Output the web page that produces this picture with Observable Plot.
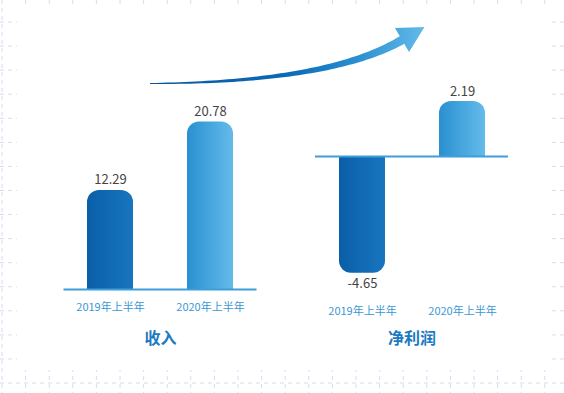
<!DOCTYPE html>
<html><head><meta charset="utf-8">
<script src="https://cdn.jsdelivr.net/npm/d3@7"></script>
<script src="https://cdn.jsdelivr.net/npm/@observablehq/plot@0.6"></script>
<style>
body{margin:0;background:#fff;}
#wrap{position:relative;width:564px;height:393px;overflow:hidden;font-family:"Noto Sans CJK SC","Noto Sans",sans-serif;}
#wrap > svg{position:absolute;top:0;}
</style></head><body>
<div id="wrap"></div>
<script>
// ---- data ----
const periods = ["2019年上半年", "2020年上半年"];
const revenue = [12.29, 20.78];
const netProfit = [-4.65, 2.19];
const titles = ["收入", "净利润"];

const wrap = document.getElementById("wrap");

// ---- background: faint dashed grid visible only along the edges ----
const bg = d3.select(wrap).append("svg").attr("width", 564).attr("height", 393).style("left", "0px");
const defs = bg.append("defs");
function grad(id, stops, attrs) {
  const g = defs.append("linearGradient").attr("id", id);
  Object.entries(attrs).forEach(([k, v]) => g.attr(k, v));
  stops.forEach(([o, c]) => g.append("stop").attr("offset", o).attr("stop-color", c));
}
grad("g2019", [[0, "#0a5ea8"], [1, "#1876be"]], {x1: 0, x2: 1, y1: 0, y2: 0});
grad("g2020", [[0, "#2990d1"], [1, "#64bbea"]], {x1: 0, x2: 1, y1: 0, y2: 0});
grad("gArrow", [[0, "#0b55a0"], [0.5, "#0a6ab6"], [0.75, "#2a8ecf"], [1, "#63bbea"]],
     {gradientUnits: "userSpaceOnUse", x1: 150, x2: 425, y1: 0, y2: 0});
const gridG = bg.append("g").attr("stroke", "#dadaee").attr("stroke-width", 1).attr("stroke-dasharray", "4,4");
for (let x = 2; x < 564; x += 23.6) gridG.append("line").attr("x1", x).attr("x2", x).attr("y1", 0).attr("y2", 393);
for (let y = 22; y < 393; y += 24.07) gridG.append("line").attr("x1", 0).attr("x2", 564).attr("y1", y).attr("y2", y);
bg.append("rect").attr("x", 17).attr("y", 4).attr("width", 531).attr("height", 366).attr("fill", "#fff");

// ---- panels ----
function panel({values, title, left, marginLeft, marginRight, marginTop, marginBottom, yDomain, titleDy}) {
  const data = periods.map((p, i) => ({period: p, value: values[i]}));
  const fills = ["url(#g2019)", "url(#g2020)"];
  const marks = [];
  periods.forEach((p, i) => {
    const filter = d => d.period === p;
    marks.push(Plot.barY(data, {filter, x: "period", y: "value", fill: fills[i], rx: 12}));
    marks.push(Plot.barY(data, {filter, x: "period", y1: 0, y2: d => d.value / 2, fill: fills[i]}));
  });
  marks.push(Plot.ruleY([0], {stroke: "#3d9ed9", strokeWidth: 2}));
  marks.push(Plot.text(data, {filter: d => d.value >= 0, x: "period", y: "value", text: d => d.value.toFixed(2),
    lineAnchor: "bottom", dy: -6, fill: "#444", fontSize: 13}));
  marks.push(Plot.text(data, {filter: d => d.value < 0, x: "period", y: "value", text: d => d.value.toFixed(2),
    lineAnchor: "top", dy: 6, fill: "#444", fontSize: 13}));
  marks.push(Plot.axisX({tickSize: 0, tickPadding: 14, fontSize: 11, fill: "#3a98d4", color: "#3a98d4", label: null}));
  marks.push(Plot.text([title], {frameAnchor: "bottom", text: d => d, dy: titleDy, fontSize: 16,
    fontWeight: "bold", fill: "#1b7ac0"}));
  const svg = Plot.plot({
    width: 282, height: 393,
    marginLeft, marginRight, marginTop, marginBottom,
    x: {domain: periods, paddingInner: 0.54, paddingOuter: 0.235},
    y: {domain: yDomain, axis: null},
    style: {background: "transparent", fontFamily: '"Noto Sans CJK SC","Noto Sans",sans-serif'},
    marks
  });
  svg.style.position = "absolute";
  svg.style.left = left + "px";
  svg.style.top = "0px";
  wrap.appendChild(svg);
}

panel({values: revenue, title: titles[0], left: 0, marginLeft: 63.5, marginRight: 25.5,
  marginTop: 110, marginBottom: 104, yDomain: [0, 22.2], titleDy: 54});
panel({values: netProfit, title: titles[1], left: 282, marginLeft: 33, marginRight: 56,
  marginTop: 90, marginBottom: 100, yDomain: [-5.458, 2.63], titleDy: 50});

// ---- decorative growth arrow ----
const ov = d3.select(wrap).append("svg").attr("width", 564).attr("height", 393).style("left", "0px");
const P0 = [150, 83.5], C = [329, 82.5], P2 = [402, 40];
const upper = [], lower = [];
const N = 60;
for (let k = 0; k <= N; k++) {
  const t = k / N, u = 1 - t;
  const x = u * u * P0[0] + 2 * u * t * C[0] + t * t * P2[0];
  const y = u * u * P0[1] + 2 * u * t * C[1] + t * t * P2[1];
  const dx = 2 * u * (C[0] - P0[0]) + 2 * t * (P2[0] - C[0]);
  const dy = 2 * u * (C[1] - P0[1]) + 2 * t * (P2[1] - C[1]);
  const L = Math.hypot(dx, dy), nx = -dy / L, ny = dx / L;
  const w = 0.5 + 3.9 * t;
  upper.push([x - nx * w, y - ny * w]);
  lower.push([x + nx * w, y + ny * w]);
}
const dir = [(P2[0] - C[0]), (P2[1] - C[1])];
const dl = Math.hypot(dir[0], dir[1]); dir[0] /= dl; dir[1] /= dl;
const nrm = [-dir[1], dir[0]];
const tip = [P2[0] + dir[0] * 26, P2[1] + dir[1] * 26];
const b1 = [P2[0] - nrm[0] * 14, P2[1] - nrm[1] * 14];
const b2 = [P2[0] + nrm[0] * 14, P2[1] + nrm[1] * 14];
const pts = [...upper, b1, tip, b2, ...lower.reverse()];
ov.append("path").attr("d", "M" + pts.map(p => p.join(",")).join("L") + "Z").attr("fill", "url(#gArrow)");
</script>
</body></html>
